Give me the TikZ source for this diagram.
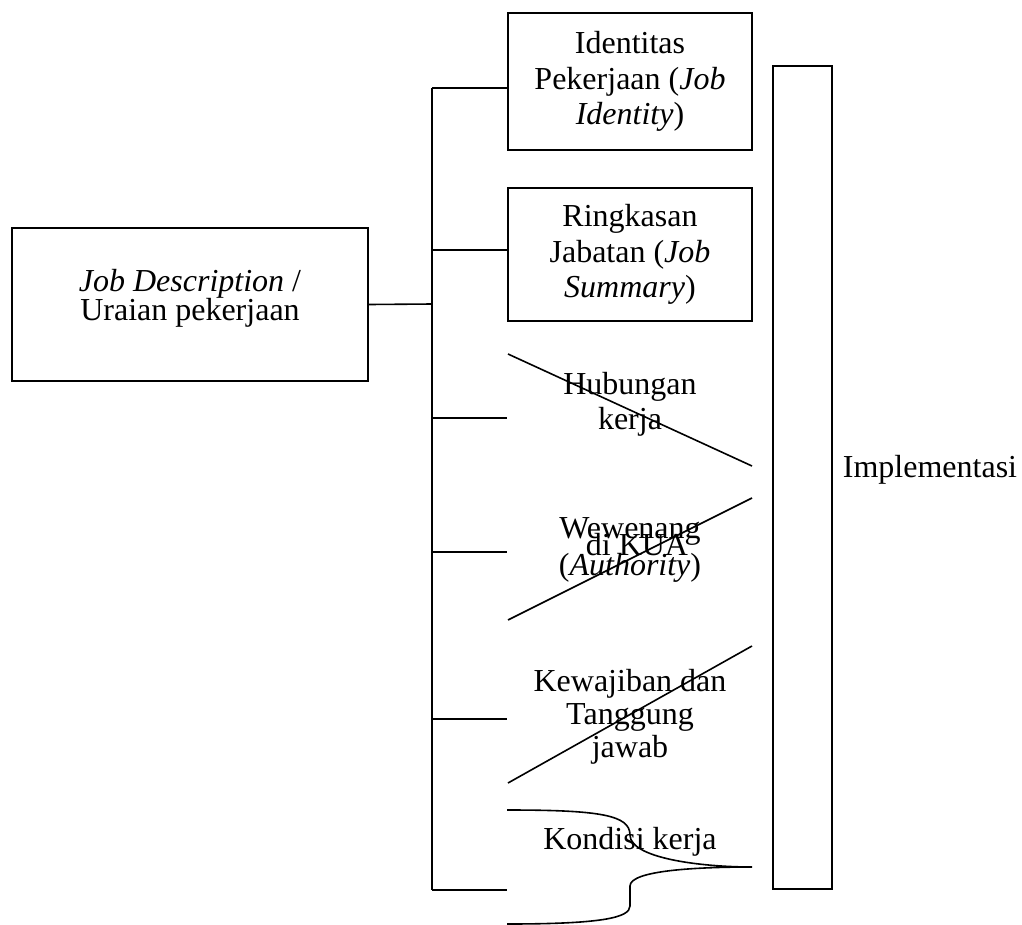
\documentclass[tikz,border=0pt]{standalone}
\usepackage{fontspec}
\setmainfont{Liberation Serif}
\usetikzlibrary{positioning,calc}
\tikzset{
  box/.style={draw,align=center,minimum width=91.5pt,inner sep=0pt,font=\fontsize{12}{13.2}\selectfont},
  item/.style={align=center,minimum width=91.5pt,inner sep=0pt,font=\fontsize{12}{13.2}\selectfont}
}

\begin{document}
\begin{tikzpicture}[x=0.375pt,y=-0.375pt,line width=0.6pt]
% One unit is one pixel of the page, y runs down
\useasboundingbox (0,0) rectangle (1022,925);

% Coordinates on the trunk
\coordinate (T0) at (432,304);
\coordinate (T1) at (432,88);
\coordinate (T2) at (432,250);
\coordinate (T3) at (432,418);
\coordinate (T4) at (432,552);
\coordinate (T5) at (432,719);
\coordinate (T6) at (432,890);

% Main box
\node[box,minimum width=133.5pt,minimum height=57.4pt,text depth=7pt,font=\fontsize{12}{11}\selectfont] (jd) at (190,304.5)
  {\textit{Job Description} /\\Uraian pekerjaan};

% Items
\node[box,minimum height=51.4pt] (ident) at (630,81.5)
  {Identitas\\Pekerjaan (\textit{Job}\\\textit{Identity})};
\node[box,minimum height=49.9pt] (ringk) at (630,254.5)
  {Ringkasan\\Jabatan (\textit{Job}\\\textit{Summary})};
\node[item] (hub) at (630,404) {Hubungan\\kerja};
\node[item,font=\fontsize{12}{14}\selectfont] (wew) at (630,550) {Wewenang\\(\textit{Authority})};
\node[item,font=\fontsize{12}{12.3}\selectfont] (kew) at (630,717) {Kewajiban dan\\Tanggung\\jawab};
\node[item] (kond) at (630,842) {Kondisi kerja};

% Implementation box and its label
\node[draw,minimum width=22.1pt,minimum height=308.6pt,inner sep=0pt] (impl) at (802.5,477.5) {};
\node[font=\fontsize{12}{13.2}\selectfont] (implLabel) at (930,470) {Implementasi};
\node[font=\fontsize{12}{13.2}\selectfont] (kua) at (637,545) {di KUA};

% Draw trunk and branches
\draw (jd.east) -- (T0);
\draw (T1) -- (T6);
\draw (T1) -- (T1 -| ident.west);
\draw (T2) -- (T2 -| ringk.west);
\draw (T3) -- (T3 -| hub.west);
\draw (T4) -- (T4 -| wew.west);
\draw (T5) -- (T5 -| kew.west);
\draw (T6) -- (T6 -| kond.west);

% Slanted strokes
\draw (508,354) -- (752,466);
\draw (752,498) -- (508,620);
\draw (752,646) -- (508,783);

% Brace
\draw (507,810) .. controls (600,810) and (630,815) .. (630,835)
  .. controls (630,858) and (700,867) .. (752,867)
  .. controls (700,867) and (630,870) .. (630,886) -- (630,906)
  .. controls (630,918) and (600,924) .. (507,924);
\end{tikzpicture}
\end{document}
